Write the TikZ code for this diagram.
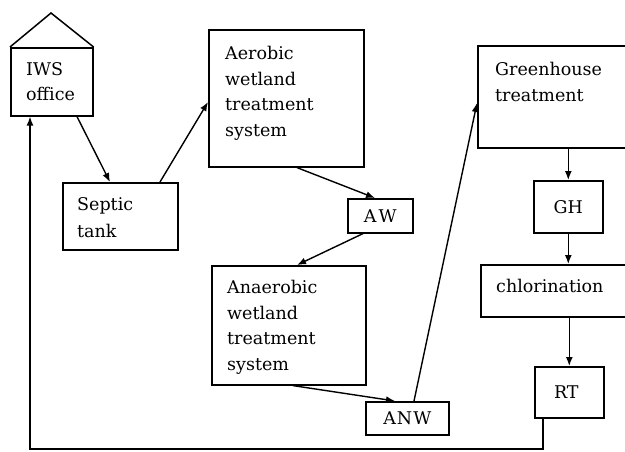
\documentclass[tikz,border=0pt]{standalone}
\usepackage{fontspec}
\setmainfont{DejaVu Serif}
\usetikzlibrary{arrows.meta}
\begin{document}
\begin{tikzpicture}[x=1pt,y=-1pt,
  box/.style={draw, line width=1.6pt, rectangle, inner sep=0pt, anchor=north west,
    font=\fontsize{17.5}{25.5}\selectfont},
  txt/.style={inner sep=0pt, anchor=north west, align=left,
    font=\fontsize{17.5}{25.5}\selectfont},
  arr/.style={line width=1.4pt, -{Latex[length=9pt,width=7pt]}},
  ln/.style={line width=1.5pt}]
\clip (0,0) rectangle (625,451);
\fill[white] (0,0) rectangle (625,451);
% boxes
\node[box, minimum width=82pt, minimum height=68pt] (iws) at (10,47) {};
\node[box, minimum width=115pt, minimum height=67pt] (sep) at (62,182) {};
\node[box, minimum width=155pt, minimum height=137pt] (aer) at (208,29) {};
\node[box, minimum width=65pt, minimum height=34pt] (aw) at (347,198) {A\kern2pt W};
\node[box, minimum width=154pt, minimum height=119pt] (ana) at (211,265) {};
\node[box, minimum width=83pt, minimum height=33pt] (anw) at (365,401) {A\kern1pt N\kern1pt W};
\node[box, minimum width=160pt, minimum height=102pt] (ght) at (477,45) {};
\node[box, minimum width=69pt, minimum height=52pt] (gh) at (533,180) {GH};
\node[box, minimum width=160pt, minimum height=52pt] (chl) at (480,264) {};
\node[box, minimum width=69pt, minimum height=51pt] (rt) at (534,366) {\hspace*{-6pt}RT};
% roof
\coordinate (peak) at (51,13);
\draw[ln, line join=miter] (iws.north west) -- (peak) -- (iws.north east);
% texts
\node[txt] (iwst) at (26,62) {IWS\\office};
\node[txt, font=\fontsize{17.5}{27}\selectfont] (sept) at (77,197) {Septic\\tank};
\node[txt] (aert) at (225,46) {Aerobic\\wetland\\treatment\\system};
\node[txt] (anat) at (227,280) {Anaerobic\\wetland\\treatment\\system};
\node[txt] (ghtt) at (495,62) {Greenhouse\\treatment};
\node[txt] (chlt) at (496,279) {chlorination};
% connectors
\draw[arr] ([xshift=67pt]iws.south west) -- ([xshift=48pt]sep.north west);
\draw[arr] ([xshift=98pt]sep.north west) -- ([yshift=-73pt]aer.north west);
\draw[arr] ([xshift=89pt]aer.south west) -- ([xshift=28pt]aw.north west);
\draw[arr] ([xshift=16pt]aw.south west) -- ([xshift=86pt]ana.north west);
\draw[arr] ([xshift=82pt]ana.south west) -- ([xshift=30pt]anw.north west);
\draw[arr] ([xshift=49pt]anw.north west) -- ([yshift=-58pt]ght.north west);
\draw[arr] (gh.north |- ght.south) -- (gh.north);
\draw[arr] (gh.south) -- (gh.south |- chl.north);
\draw[arr] (rt.north |- chl.south) -- (rt.north);
\coordinate (fb) at (30,449);
\draw[arr] ([xshift=9pt]rt.south west) |- (fb) -- (fb |- iws.south);
\end{tikzpicture}
\end{document}
